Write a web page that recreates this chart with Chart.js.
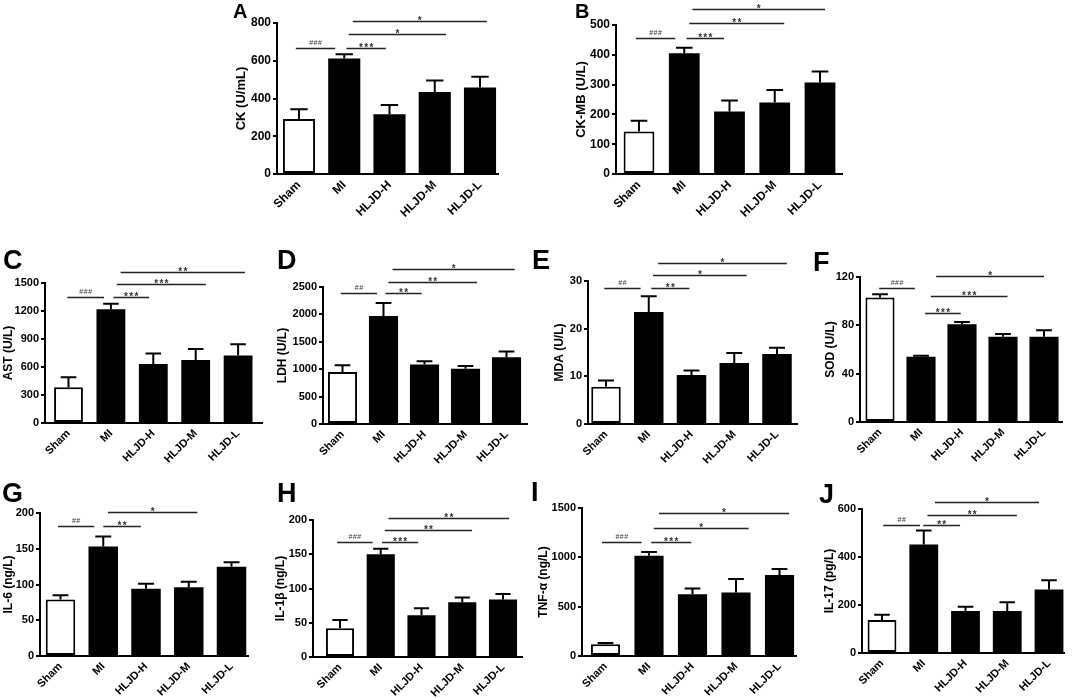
<!DOCTYPE html>
<html>
<head>
<meta charset="utf-8">
<script src="https://cdn.jsdelivr.net/npm/chart.js@4.4.0/dist/chart.umd.min.js"></script>
<style>
  html, body { margin: 0; padding: 0; background: #fff; }
  body { width: 1072px; height: 698px; position: relative; overflow: hidden; font-family: "Liberation Sans", Arial, sans-serif; }
  canvas { position: absolute; }
  .tag { position: absolute; font-weight: bold; line-height: 1; color: #000; }
</style>
</head>
<body>
<script>
// groups on the x axis
const categories = ['Sham', 'MI', 'HLJD-H', 'HLJD-M', 'HLJD-L'];

// mean and SEM per panel
const ckMean = [292, 612, 317, 435, 458];
const ckSem = [51, 23, 49, 61, 57];
const ckmbMean = [143, 405, 210, 240, 307];
const ckmbSem = [36, 19, 37, 42, 37];
const astMean = [383, 1218, 632, 674, 724];
const astSem = [107, 60, 113, 118, 121];
const ldhMean = [950, 1970, 1085, 1010, 1220];
const ldhSem = [120, 240, 60, 50, 105];
const mdaMean = [7.8, 23.5, 10.3, 12.8, 14.7];
const mdaSem = [1.3, 3.3, 0.9, 2.1, 1.3];
const sodMean = [103, 54, 81, 70.6, 70.6];
const sodSem = [2.8, 0.8, 1.7, 2.3, 5.3];
const il6Mean = [79, 153, 94, 96, 125];
const il6Sem = [6, 14, 7, 8, 6];
const il1bMean = [42, 150, 61, 80, 84];
const il1bSem = [12, 8, 10, 7, 8];
const tnfMean = [120, 1015, 625, 643, 821];
const tnfSem = [12, 40, 60, 137, 61];
const il17Mean = [138, 452, 175, 175, 265];
const il17Sem = [21, 58, 18, 36, 38];

// axis ranges and labels
const panelLetters = ['A', 'B', 'C', 'D', 'E', 'F', 'G', 'H', 'I', 'J'];
const axisTitles = ['CK (U/mL)', 'CK-MB (U/L)', 'AST (U/L)', 'LDH (U/L)', 'MDA (U/L)',
                    'SOD (U/L)', 'IL-6 (ng/L)', 'IL-1β (ng/L)', 'TNF-α (ng/L)', 'IL-17 (pg/L)'];
const axisMax = [800, 500, 1500, 2500, 30, 120, 200, 200, 1500, 600];
const axisStep = [200, 100, 300, 500, 10, 40, 50, 50, 500, 200];

// significance bars: [from group, to group, height in axis units, label]
const ckMarks = [[-0.07, 0.80, 666, '###'], [1.05, 1.92, 666, '***'], [1.10, 3.25, 740, '*'], [1.19, 4.15, 812, '*']];
const ckmbMarks = [[-0.07, 0.80, 456, '###'], [1.05, 1.88, 456, '***'], [1.11, 3.21, 507, '**'], [1.18, 4.11, 554, '*']];
const astMarks = [[-0.03, 0.84, 1347, '###'], [1.06, 1.90, 1347, '***'], [1.14, 3.24, 1486, '***'], [1.23, 4.16, 1621, '**']];
const ldhMarks = [[-0.04, 0.84, 2385, '##'], [1.05, 1.93, 2385, '**'], [1.12, 3.28, 2597, '**'], [1.22, 4.20, 2823, '*']];
const mdaMarks = [[-0.04, 0.81, 28.5, '##'], [1.06, 1.95, 28.5, '**'], [1.10, 3.29, 31.3, '*'], [1.22, 4.23, 33.8, '*']];
const sodMarks = [[-0.02, 0.85, 111, '###'], [1.10, 1.97, 90, '***'], [1.24, 3.11, 104, '***'], [1.37, 4.00, 121, '*']];
const il6Marks = [[-0.06, 0.79, 182, '##'], [1.00, 1.88, 182, '**'], [1.11, 3.20, 201, '*']];
const il1bMarks = [[-0.07, 0.80, 168, '###'], [1.03, 1.92, 168, '***'], [1.10, 3.24, 185, '**'], [1.19, 4.15, 203, '**']];
const tnfMarks = [[-0.08, 0.83, 1155, '###'], [1.05, 1.97, 1155, '***'], [1.11, 3.29, 1297, '*'], [1.23, 4.22, 1449, '*']];
const il17Marks = [[0.03, 0.91, 533, '##'], [0.99, 1.87, 533, '**'], [1.09, 3.23, 575, '**'], [1.27, 3.76, 630, '*']];

const means = [ckMean, ckmbMean, astMean, ldhMean, mdaMean, sodMean, il6Mean, il1bMean, tnfMean, il17Mean];
const sems = [ckSem, ckmbSem, astSem, ldhSem, mdaSem, sodSem, il6Sem, il1bSem, tnfSem, il17Sem];
const marks = [ckMarks, ckmbMarks, astMarks, ldhMarks, mdaMarks, sodMarks, il6Marks, il1bMarks, tnfMarks, il17Marks];

// page layout
const rows = [
    { top: 0, bottom: 240, tick: 12, title: 13, letter: 20 },
    { top: 245, bottom: 474, tick: 11, title: 12, letter: 27 },
    { top: 478, bottom: 698, tick: 11, title: 12, letter: 27 }
];
const geometry = [
    { row: 0, axisX: 277, c0: 299, catW: 45.25, b: 0.40, top: 23, base: 174, titleX: 242, bar: 0.71, lx: 233, ly: 18 },
    { row: 0, axisX: 616, c0: 639, catW: 45.25, b: 0.49, top: 25, base: 174, titleX: 582, bar: 0.68, lx: 575, ly: 18 },
    { row: 1, axisX: 45, c0: 68.5, catW: 42.4, b: 0.58, top: 283, base: 423, titleX: 8, bar: 0.68, lx: 3, ly: 270 },
    { row: 1, axisX: 323, c0: 342.5, catW: 41, b: 0.50, top: 287, base: 424, titleX: 282, bar: 0.71, lx: 277, ly: 270 },
    { row: 1, axisX: 588, c0: 606, catW: 42.75, b: 0.49, top: 281, base: 424, titleX: 559, bar: 0.69, lx: 532, ly: 270 },
    { row: 1, axisX: 860, c0: 880, catW: 41, b: 0.44, top: 277, base: 422, titleX: 830, bar: 0.71, lx: 813, ly: 272 },
    { row: 2, axisX: 40, c0: 60.5, catW: 42.75, b: 0.40, top: 513, base: 656, titleX: 8, bar: 0.69, lx: 2, ly: 503 },
    { row: 2, axisX: 313, c0: 340, catW: 40.75, b: 0.49, top: 520, base: 657, titleX: 280, bar: 0.69, lx: 277, ly: 503 },
    { row: 2, axisX: 582, c0: 605.5, catW: 43.5, b: 0.40, top: 508, base: 656, titleX: 543, bar: 0.67, lx: 531, ly: 502 },
    { row: 2, axisX: 862, c0: 882, catW: 41.75, b: 0.38, top: 509, base: 653, titleX: 829, bar: 0.69, lx: 819, ly: 504 }
];

const FONT = '"Liberation Sans", Arial, sans-serif';

function makePanel(k) {
    const g = geometry[k];
    const row = rows[g.row];
    const mean = means[k], sem = sems[k], sig = marks[k];

    const left = Math.round(g.titleX - row.title * 0.6);
    const axisEnd = g.c0 + (4 + g.b) * g.catW;
    const right = Math.min(1072, Math.round(axisEnd + 14));
    const startGap = (g.c0 - g.axisX) / g.catW;
    const w = right - left, h = row.bottom - row.top;

    const cv = document.createElement('canvas');
    cv.width = w; cv.height = h;
    cv.style.left = left + 'px'; cv.style.top = row.top + 'px';
    cv.style.width = w + 'px'; cv.style.height = h + 'px';
    document.body.appendChild(cv);

    const tag = document.createElement('div');
    tag.className = 'tag';
    tag.textContent = panelLetters[k];
    tag.style.fontSize = row.letter + 'px';
    tag.style.left = g.lx + 'px';
    tag.style.top = (g.ly - 0.8465 * row.letter) + 'px';
    document.body.appendChild(tag);

    // error bars above each bar
    const errorBars = {
        id: 'errorBars',
        afterDatasetsDraw(chart) {
            const ctx = chart.ctx, ys = chart.scales.y;
            const bars = chart.getDatasetMeta(0).data;
            ctx.save();
            ctx.strokeStyle = '#000';
            ctx.lineWidth = 2;
            bars.forEach((bar, i) => {
                const yTop = ys.getPixelForValue(mean[i] + sem[i]);
                const half = bar.width * 0.27;
                ctx.beginPath();
                ctx.moveTo(bar.x, bar.y);
                ctx.lineTo(bar.x, yTop);
                ctx.moveTo(bar.x - half, yTop);
                ctx.lineTo(bar.x + half, yTop);
                ctx.stroke();
            });
            ctx.restore();
        }
    };

    // significance lines with their symbols
    const brackets = {
        id: 'brackets',
        afterDraw(chart) {
            const ctx = chart.ctx, xs = chart.scales.x, ys = chart.scales.y;
            ctx.save();
            sig.forEach(([a, b, v, label]) => {
                const x1 = xs.getPixelForValue(a), x2 = xs.getPixelForValue(b);
                const y = Math.round(ys.getPixelForValue(v)) + 0.5;
                ctx.strokeStyle = '#222';
                ctx.lineWidth = 1.3;
                ctx.beginPath();
                ctx.moveTo(x1, y);
                ctx.lineTo(x2, y);
                ctx.stroke();

                const star = label[0] === '*';
                const step = star ? 5.2 : 4.4;
                ctx.font = star ? 'bold 10px ' + FONT : '7px ' + FONT;
                ctx.fillStyle = '#333';
                ctx.textAlign = 'center';
                ctx.textBaseline = 'alphabetic';
                const cx = (x1 + x2) / 2;
                for (let i = 0; i < label.length; i++) {
                    const px = cx + (i - (label.length - 1) / 2) * step;
                    ctx.fillText(label[i], px, star ? y + 2.5 : y - 3.5);
                }
            });
            ctx.restore();
        }
    };

    new Chart(cv, {
        type: 'bar',
        data: {
            datasets: [{
                data: mean.map((v, i) => ({ x: i, y: v })),
                backgroundColor: mean.map((v, i) => i === 0 ? '#fff' : '#000'),
                borderColor: '#000',
                borderWidth: mean.map((v, i) => i === 0 ? 2 : 0),
                borderSkipped: false,
                barPercentage: g.bar,
                categoryPercentage: 1
            }]
        },
        options: {
            responsive: false,
            animation: false,
            layout: { padding: { left: 0, top: g.top - row.top, right: right - axisEnd, bottom: 0 } },
            plugins: { legend: { display: false }, tooltip: { enabled: false } },
            scales: {
                x: {
                    type: 'linear',
                    offset: false,
                    min: -startGap,
                    max: 4 + g.b,
                    z: 1,
                    afterBuildTicks: s => { s.ticks = categories.map((c, i) => ({ value: i })); },
                    afterFit: s => { s.height = row.bottom - g.base; },
                    grid: { display: false, drawTicks: false, offset: false },
                    border: { display: true, color: '#000', width: 2 },
                    ticks: {
                        autoSkip: false,
                        minRotation: 45,
                        maxRotation: 45,
                        padding: 4,
                        color: '#000',
                        font: { family: FONT, size: row.tick, weight: 'bold' },
                        callback: v => categories[Math.round(v)]
                    }
                },
                y: {
                    min: 0,
                    max: axisMax[k],
                    z: 1,
                    afterFit: s => { s.width = g.axisX - left; },
                    grid: { display: true, drawOnChartArea: false, drawTicks: true, tickLength: 4, color: '#000', lineWidth: 2 },
                    border: { display: true, color: '#000', width: 2 },
                    ticks: {
                        stepSize: axisStep[k],
                        padding: 2,
                        color: '#000',
                        font: { family: FONT, size: row.tick, weight: 'bold' },
                        callback: v => String(v)
                    },
                    title: {
                        display: true,
                        text: axisTitles[k],
                        color: '#000',
                        padding: 0,
                        font: { family: FONT, size: row.title, weight: 'bold' }
                    }
                }
            }
        },
        plugins: [errorBars, brackets]
    });
}

for (let k = 0; k < geometry.length; k++) makePanel(k);
</script>
</body>
</html>
